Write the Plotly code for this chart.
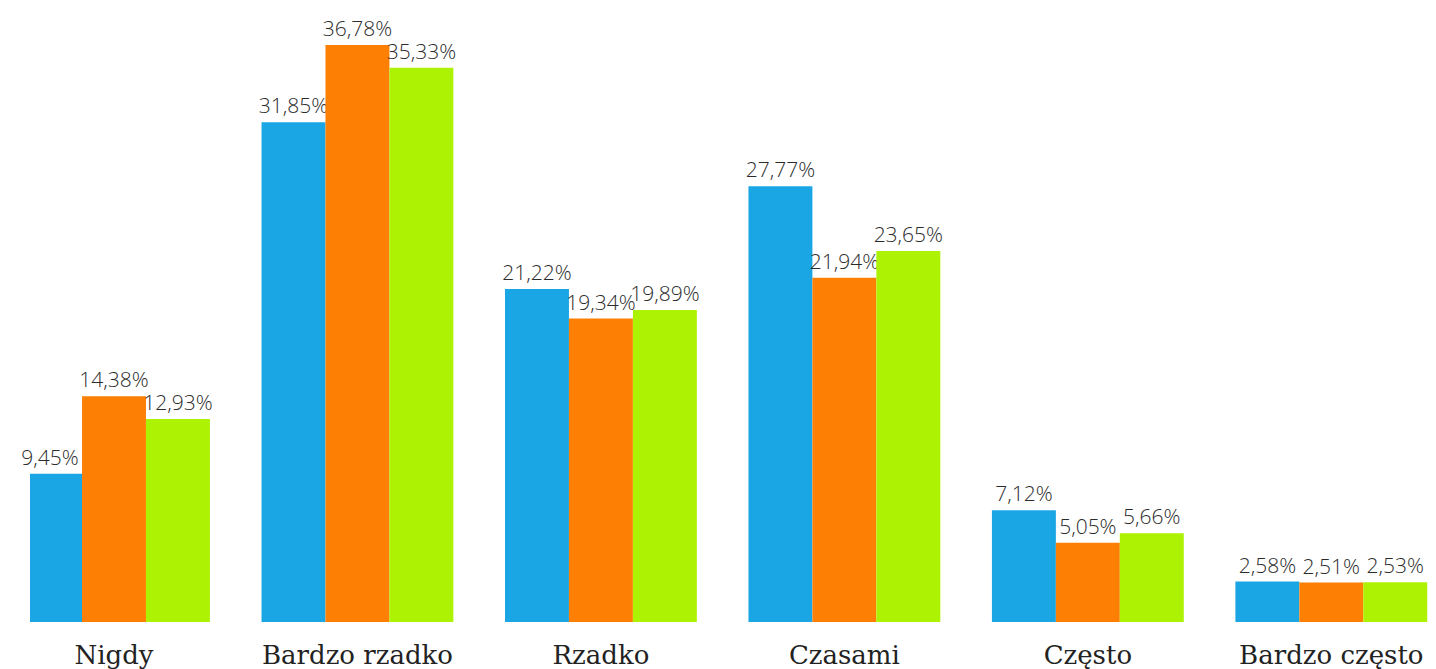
import plotly.graph_objects as go

categories = ["Nigdy", "Bardzo rzadko", "Rzadko", "Czasami", "Często", "Bardzo często"]
series_blue = [9.45, 31.85, 21.22, 27.77, 7.12, 2.58]
series_orange = [14.38, 36.78, 19.34, 21.94, 5.05, 2.51]
series_green = [12.93, 35.33, 19.89, 23.65, 5.66, 2.53]
colors = ["#1aa6e4", "#fd7f04", "#aef203"]

def fmt(v):
    return f"{v:.2f}".replace(".", ",") + "%"

x = list(range(len(categories)))
fig = go.Figure()
for vals, col in zip([series_blue, series_orange, series_green], colors):
    fig.add_trace(go.Bar(
        x=x, y=vals, marker=dict(color=col, line=dict(width=0)),
        text=[fmt(v) for v in vals], textposition="outside",
        constraintext="none", cliponaxis=False,
        textfont=dict(family="Open Sans", size=21, color="#2b2b2b", weight=300),
        hoverinfo="skip",
    ))

fig.update_layout(
    width=1436, height=669,
    barmode="group", bargap=0.212, bargroupgap=0,
    showlegend=False,
    paper_bgcolor="white", plot_bgcolor="white",
    margin=dict(l=30, r=0, t=0, b=47),
    xaxis=dict(range=[-0.345, 5.43], tickmode="array", tickvals=x, ticktext=categories,
               showgrid=False, zeroline=False, showline=False,
               ticks="outside", ticklen=10, tickcolor="rgba(0,0,0,0)",
               tickfont=dict(family="DejaVu Serif", size=26, color="#222222")),
    yaxis=dict(range=[0, 39.64], visible=False, showgrid=False, zeroline=False),
)
fig.write_html("out.html", config={"displayModeBar": False},
               post_script="document.body.style.margin='0';document.body.style.overflow='hidden';")
